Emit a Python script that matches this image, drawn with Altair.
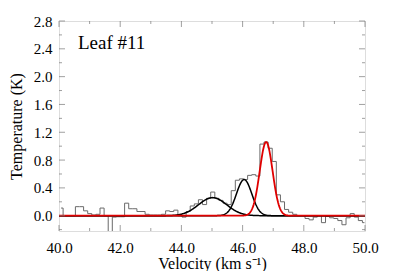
import altair as alt
import numpy as np
import pandas as pd

# ---- data ----
chan_start = 40.0
chan_width = 0.134
spectrum_T = [0.11, 0.00, 0.00, 0.00, 0.13, 0.13, 0.07, 0.03, 0.01, 0.02,
              0.11, 0.00, -0.35, -0.02, -0.015, -0.015, 0.18, 0.10, 0.10, 0.06,
              0.06, 0.02, 0.01, 0.01, 0.01, 0.02, 0.07, 0.06, 0.08, 0.00,
              -0.02, 0.06, 0.14, 0.17, 0.23, 0.16, 0.25, 0.34, 0.25, 0.22,
              0.18, 0.16, 0.36, 0.51, 0.53, 0.52, 0.58, 0.59, 0.57, 1.03,
              1.06, 0.97, 0.78, 0.30, 0.20, 0.09, 0.05, 0.02, 0.00, 0.00,
              -0.04, -0.06, -0.02, 0.00, -0.10, -0.01, -0.03, -0.04, -0.07, -0.13,
              -0.03, 0.03, -0.02, -0.07, -0.10]

# Gaussian fit components (centre km/s, peak K, sigma km/s)
gauss_names = ["c1", "c2", "c3"]
gauss_centers = [45.02, 46.05, 46.77]
gauss_amps = [0.26, 0.52, 1.06]
gauss_sigmas = [0.46, 0.25, 0.21]

x_major = [40, 42, 44, 46, 48, 50]
x_minor = [41, 43, 45, 47, 49]
y_major = [0.0, 0.4, 0.8, 1.2, 1.6, 2.0, 2.4, 2.8]
y_minor = [-0.2, 0.2, 0.6, 1.0, 1.4, 1.8, 2.2, 2.6]
label_text = ["Leaf #11"]

# ---- tables ----
centres = [chan_start + chan_width * (i + 0.5) for i in range(len(spectrum_T))]
spec = pd.DataFrame({"v": centres, "T": spectrum_T})

vgrid = np.linspace(40, 50, 501)
rows = []
for n, c, a, s in zip(gauss_names, gauss_centers, gauss_amps, gauss_sigmas):
    for v in vgrid:
        rows.append({"comp": n, "v": float(v), "T": float(a * np.exp(-0.5 * ((v - c) / s) ** 2))})
fits = pd.DataFrame(rows)

W, H = 306, 210
FONT = "Liberation Serif"
AX = "#777777"

xs = alt.Scale(domain=[40, 50], nice=False, zero=False)
ys = alt.Scale(domain=[-0.22, 2.8], nice=False, zero=False)

xaxis = alt.Axis(values=x_major, format=".1f", ticks=False, domain=False, grid=False,
                 labelFlush=False, labelPadding=9, labelFontSize=15, labelFont=FONT,
                 labelColor="black",
                 title="Velocity (km s⁻¹)", titleFont=FONT, titleFontSize=16,
                 titleFontWeight="normal", titleColor="black", titlePadding=0)
yaxis = alt.Axis(values=y_major, format=".1f", ticks=False, domain=False, grid=False,
                 labelFlush=False, labelPadding=7, labelFontSize=15, labelFont=FONT,
                 labelColor="black",
                 title="Temperature (K)", titleFont=FONT, titleFontSize=16,
                 titleFontWeight="normal", titleColor="black", titlePadding=9)


def X(f):
    return alt.X(f, scale=xs, axis=xaxis)


def Y(f):
    return alt.Y(f, scale=ys, axis=yaxis)


hist = alt.Chart(spec).mark_line(interpolate="step", color="#6a6a6a", strokeWidth=1, clip=True).encode(
    x=X("v:Q"), y=Y("T:Q"))

black = alt.Chart(fits).transform_filter(alt.datum.comp != "c3").mark_line(
    color="black", strokeWidth=1.5, clip=True).encode(x=X("v:Q"), y=Y("T:Q"), detail="comp:N")

red = alt.Chart(fits).transform_filter(alt.datum.comp == "c3").mark_line(
    color="#e00000", strokeWidth=1.8, clip=True).encode(x=X("v:Q"), y=Y("T:Q"))


def xticks(vals, L):
    d = pd.DataFrame({"t": vals})
    b = alt.Chart(d).mark_tick(orient="vertical", color=AX, thickness=1, size=L).encode(
        x=X("t:Q"), y=alt.value(H - L / 2))
    t = alt.Chart(d).mark_tick(orient="vertical", color=AX, thickness=1, size=L).encode(
        x=X("t:Q"), y=alt.value(L / 2))
    return [b, t]


def yticks(vals, L):
    d = pd.DataFrame({"t": vals})
    l = alt.Chart(d).mark_tick(orient="horizontal", color=AX, thickness=1, size=L).encode(
        y=Y("t:Q"), x=alt.value(L / 2))
    r = alt.Chart(d).mark_tick(orient="horizontal", color=AX, thickness=1, size=L).encode(
        y=Y("t:Q"), x=alt.value(W - L / 2))
    return [l, r]


label = alt.Chart(pd.DataFrame({"txt": label_text})).mark_text(
    align="left", baseline="alphabetic", font=FONT, fontSize=19, color="black").encode(
    x=alt.value(19), y=alt.value(28), text="txt:N")

layers = [hist, black, red] + xticks(x_major, 6) + xticks(x_minor, 3) + yticks(y_major, 6) + yticks(y_minor, 3) + [label]

chart = alt.layer(*layers).properties(
    width=W, height=H,
    autosize=alt.AutoSizeParams(type="none"),
    padding={"left": 51, "top": 13, "right": 20, "bottom": 40},
).configure_view(stroke=AX, strokeWidth=1).configure(background="white")

chart.save("out.html", embed_options={"renderer": "svg", "actions": False})
